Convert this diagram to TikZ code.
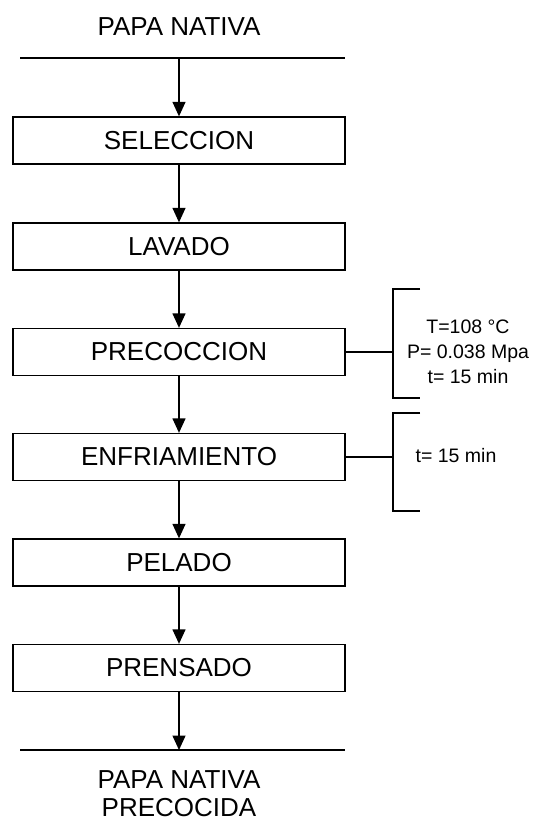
\documentclass[tikz,border=0pt]{standalone}
\usepackage{fontspec}
\setmainfont{Liberation Sans}
\usetikzlibrary{arrows.meta}
\begin{document}
\begin{tikzpicture}[x=1pt,y=-1pt,
  line width=1.3pt,
  stepbox/.style={draw, minimum width=332pt, minimum height=47pt, inner sep=0pt,
    font=\fontsize{26}{30}\selectfont},
  bigtext/.style={inner sep=0pt, align=center, font=\fontsize{26}{28}\selectfont},
  smalltext/.style={inner sep=0pt, align=center, font=\fontsize{19.5}{25}\selectfont},
  flow/.style={-{Triangle[width=13pt,length=14.5pt]}}]
\useasboundingbox (0,0) rectangle (539,823);
\node[bigtext] (src) at (179,27) {PAPA NATIVA};
\coordinate (tl) at (20,58);
\coordinate (tr) at (345,58);
\coordinate (ti) at (179,58);
\draw (tl) -- (tr);
\node[stepbox] (s1) at (179,140.5) {SELECCION};
\node[stepbox] (s2) at (179,246.5) {LAVADO};
\node[stepbox] (s3) at (179,352) {PRECOCCION};
\node[stepbox] (s4) at (179,457) {ENFRIAMIENTO};
\node[stepbox] (s5) at (179,562.5) {PELADO};
\node[stepbox] (s6) at (179,668) {PRENSADO};
\coordinate (bl) at (20,750);
\coordinate (br) at (345,750);
\coordinate (bi) at (179,750);
\draw (bl) -- (br);
\node[bigtext] (out) at (179,794) {PAPA NATIVA\\PRECOCIDA};
\draw[flow] (ti) -- (s1);
\draw[flow] (s1) -- (s2);
\draw[flow] (s2) -- (s3);
\draw[flow] (s3) -- (s4);
\draw[flow] (s4) -- (s5);
\draw[flow] (s5) -- (s6);
\draw[flow] (s6) -- (bi);
% bracket 1
\coordinate (b1a) at (420,289);
\coordinate (b1b) at (393,289);
\coordinate (b1c) at (393,398);
\coordinate (b1d) at (420,398);
\draw (b1a) -- (b1b) -- (b1c) -- (b1d);
\draw (s3.east) -- (s3.east -| b1b);
\node[smalltext] (p1) at (468,352) {T=108 °C\\P= 0.038 Mpa\\t= 15 min};
% bracket 2
\coordinate (b2a) at (420,413);
\coordinate (b2b) at (393,413);
\coordinate (b2c) at (393,511);
\coordinate (b2d) at (420,511);
\draw (b2a) -- (b2b) -- (b2c) -- (b2d);
\draw (s4.east) -- (s4.east -| b2b);
\node[smalltext, anchor=west] (p2) at (415,456) {t= 15 min};
\end{tikzpicture}
\end{document}
